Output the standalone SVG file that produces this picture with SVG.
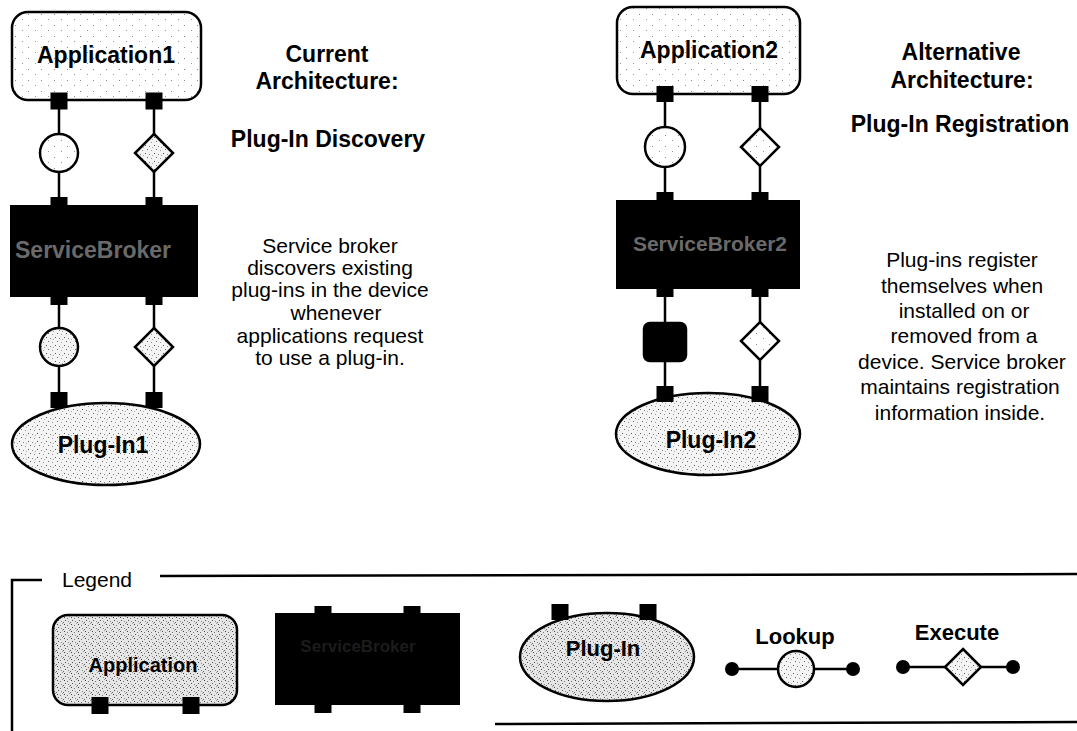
<svg xmlns="http://www.w3.org/2000/svg" width="1077" height="731" viewBox="0 0 1077 731">
<style>
.ol{stroke:#000;stroke-width:2.5;}
.ln{stroke:#000;stroke-width:2.5;fill:none;}
.port{fill:#000;}
.hb{font-family:"Liberation Sans",Arial,sans-serif;font-weight:bold;fill:#000;text-anchor:middle;}
.tx{font-family:"Liberation Sans",Arial,sans-serif;fill:#000;text-anchor:middle;font-size:21px;}
.bk{font-family:"Liberation Sans",Arial,sans-serif;font-weight:bold;text-anchor:middle;}
</style>
<defs>
<pattern id="sp1" width="13" height="11" patternUnits="userSpaceOnUse">
<rect width="13" height="11" fill="#fff"/>
<rect x="2" y="3" width="1" height="1" fill="#888"/>
<rect x="9" y="8" width="1" height="1" fill="#999"/>
</pattern>
<pattern id="sp2" width="9" height="8" patternUnits="userSpaceOnUse">
<rect width="9" height="8" fill="#f4f4f4"/>
<rect x="1" y="1" width="1" height="1" fill="#555"/>
<rect x="5" y="2" width="1" height="1" fill="#888"/>
<rect x="3" y="5" width="1" height="1" fill="#666"/>
<rect x="7" y="6" width="1" height="1" fill="#999"/>
<rect x="8" y="3" width="1" height="1" fill="#aaa"/>
</pattern>
<pattern id="sp3" width="7" height="7" patternUnits="userSpaceOnUse">
<rect width="7" height="7" fill="#e6e6e6"/>
<rect x="1" y="1" width="1" height="1" fill="#444"/>
<rect x="4" y="2" width="1" height="1" fill="#777"/>
<rect x="2" y="4" width="1" height="1" fill="#555"/>
<rect x="5" y="5" width="1" height="1" fill="#888"/>
<rect x="6" y="0" width="1" height="1" fill="#999"/>
<rect x="0" y="6" width="1" height="1" fill="#666"/>
</pattern>
</defs>
<rect width="1077" height="731" fill="#fff"/>

<g id="connectors">
<line class="ln" x1="59" y1="101" x2="59" y2="205"/>
<line class="ln" x1="154" y1="101" x2="154" y2="205"/>
<line class="ln" x1="59" y1="297" x2="59" y2="400"/>
<line class="ln" x1="154" y1="297" x2="154" y2="400"/>
<line class="ln" x1="665" y1="94" x2="665" y2="200"/>
<line class="ln" x1="760" y1="94" x2="760" y2="200"/>
<line class="ln" x1="665" y1="289" x2="665" y2="394"/>
<line class="ln" x1="760" y1="289" x2="760" y2="394"/>
</g>

<g id="application1">
<rect class="ol" x="12" y="12" width="189" height="88" rx="16" fill="url(#sp1)"/>
<text class="hb" x="106" y="63" font-size="23">Application1</text>
<rect class="port" x="50.5" y="92.5" width="17" height="17"/>
<rect class="port" x="145.5" y="92.5" width="17" height="17"/>
</g>
<g id="lookup1"><circle class="ol" cx="59" cy="153" r="19" fill="url(#sp1)"/></g>
<g id="execute1"><polygon class="ol" points="154,134 173,153 154,172 135,153" fill="url(#sp2)"/></g>
<g id="broker1">
<rect x="10" y="205" width="188" height="92" fill="#000"/>
<rect class="port" x="50.5" y="197" width="17" height="16"/>
<rect class="port" x="145.5" y="197" width="17" height="16"/>
<rect class="port" x="50.5" y="289" width="17" height="16"/>
<rect class="port" x="145.5" y="289" width="17" height="16"/>
<text class="bk" x="93" y="258" font-size="23" fill="#6a6a6a">ServiceBroker</text>
</g>
<g id="lookup2"><circle class="ol" cx="59" cy="347" r="19" fill="url(#sp2)"/></g>
<g id="execute2"><polygon class="ol" points="154,328 173,347 154,366 135,347" fill="url(#sp2)"/></g>
<g id="plugin1">
<ellipse class="ol" cx="106" cy="444" rx="94" ry="41" fill="url(#sp2)"/>
<rect class="port" x="50.5" y="392" width="17" height="16"/>
<rect class="port" x="145.5" y="392" width="17" height="16"/>
<text class="hb" x="103" y="453" font-size="23">Plug-In1</text>
</g>

<g id="current-text">
<text class="hb" x="327" y="62" font-size="23">Current</text>
<text class="hb" x="327" y="89" font-size="23">Architecture:</text>
<text class="hb" x="328" y="147" font-size="23">Plug-In Discovery</text>
<text class="tx" x="330" y="253">Service broker</text>
<text class="tx" x="330" y="275">discovers existing</text>
<text class="tx" x="330" y="297">plug-ins in the device</text>
<text class="tx" x="336" y="320">whenever</text>
<text class="tx" x="330" y="343">applications request</text>
<text class="tx" x="330" y="365">to use a plug-in.</text>
</g>

<g id="application2">
<rect class="ol" x="617" y="7" width="183" height="87" rx="16" fill="url(#sp1)"/>
<text class="hb" x="709" y="58" font-size="23">Application2</text>
<rect class="port" x="656.5" y="86" width="17" height="16"/>
<rect class="port" x="751.5" y="86" width="17" height="16"/>
</g>
<g id="lookup3"><circle class="ol" cx="665" cy="147" r="20" fill="url(#sp1)"/></g>
<g id="execute3"><polygon class="ol" points="760,128 779,147 760,166 741,147" fill="url(#sp1)"/></g>
<g id="broker2">
<rect x="616" y="200" width="184" height="89" fill="#000"/>
<rect class="port" x="656.5" y="192" width="17" height="16"/>
<rect class="port" x="751.5" y="192" width="17" height="16"/>
<rect class="port" x="656.5" y="281" width="17" height="16"/>
<rect class="port" x="751.5" y="281" width="17" height="16"/>
<text class="bk" x="710" y="251" font-size="21" fill="#6a6a6a">ServiceBroker2</text>
</g>
<g id="registration-block"><rect class="ol" x="644" y="323" width="42" height="38" rx="6" fill="#000"/></g>
<g id="execute4"><polygon class="ol" points="760,322 779,341 760,360 741,341" fill="url(#sp1)"/></g>
<g id="plugin2">
<ellipse class="ol" cx="708" cy="434" rx="92" ry="41" fill="url(#sp2)"/>
<rect class="port" x="656.5" y="386" width="17" height="16"/>
<rect class="port" x="751.5" y="386" width="17" height="16"/>
<text class="hb" x="711" y="448" font-size="23">Plug-In2</text>
</g>

<g id="alternative-text">
<text class="hb" x="961" y="60" font-size="23">Alternative</text>
<text class="hb" x="962" y="88" font-size="23">Architecture:</text>
<text class="hb" x="960" y="132" font-size="23">Plug-In Registration</text>
<text class="tx" x="962" y="267">Plug-ins register</text>
<text class="tx" x="962" y="293">themselves when</text>
<text class="tx" x="964" y="318">installed on or</text>
<text class="tx" x="964" y="343">removed from a</text>
<text class="tx" x="962" y="369">device. Service broker</text>
<text class="tx" x="960" y="394">maintains registration</text>
<text class="tx" x="960" y="420">information inside.</text>
</g>

<g id="legend">
<polyline class="ln" points="42,580 12,580 12,731"/>
<line class="ln" x1="160" y1="576" x2="1077" y2="574"/>
<line class="ln" x1="495" y1="724" x2="1077" y2="722"/>
<text class="tx" x="97" y="587" style="font-size:21px">Legend</text>
<g id="legend-application">
<rect class="ol" x="53" y="615" width="184" height="90" rx="15" fill="url(#sp3)"/>
<rect class="port" x="91.5" y="697" width="17" height="17"/>
<rect class="port" x="182.5" y="697" width="17" height="17"/>
<text class="hb" x="143" y="672" font-size="20">Application</text>
</g>
<g id="legend-broker">
<rect x="275" y="613" width="185" height="92" fill="#000"/>
<rect class="port" x="314.5" y="606" width="17" height="16"/>
<rect class="port" x="403.5" y="606" width="17" height="16"/>
<rect class="port" x="314.5" y="697" width="17" height="16"/>
<rect class="port" x="403.5" y="697" width="17" height="16"/>
<text class="bk" x="358" y="652" font-size="17" fill="#1c1c1c">ServiceBroker</text>
</g>
<g id="legend-plugin">
<ellipse class="ol" cx="607" cy="657" rx="87" ry="44" fill="url(#sp3)"/>
<rect class="port" x="551.5" y="604" width="17" height="16"/>
<rect class="port" x="639.5" y="604" width="17" height="16"/>
<text class="hb" x="603" y="656" font-size="22">Plug-In</text>
</g>
<g id="legend-lookup">
<text class="hb" x="795" y="644" font-size="22">Lookup</text>
<line class="ln" x1="732" y1="669" x2="853" y2="669"/>
<circle cx="732" cy="669" r="7" fill="#000"/>
<circle cx="853" cy="669" r="7" fill="#000"/>
<circle class="ol" cx="796" cy="669" r="18" fill="url(#sp2)"/>
</g>
<g id="legend-execute">
<text class="hb" x="957" y="640" font-size="22">Execute</text>
<line class="ln" x1="903" y1="667" x2="1013" y2="667"/>
<circle cx="903" cy="667" r="7" fill="#000"/>
<circle cx="1013" cy="667" r="7" fill="#000"/>
<polygon class="ol" points="963,649 981,667 963,685 945,667" fill="url(#sp2)"/>
</g>
</g>
</svg>
